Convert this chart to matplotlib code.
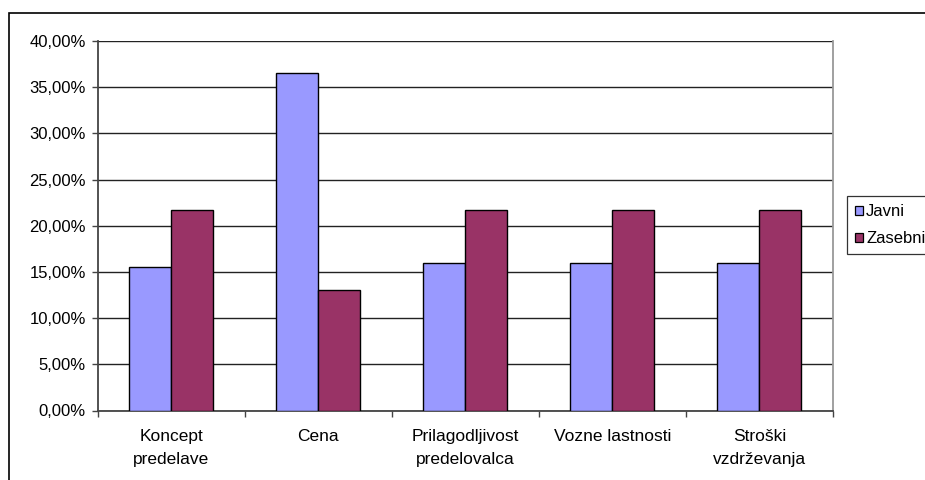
import matplotlib
matplotlib.use("Agg")
import matplotlib.pyplot as plt
from matplotlib.patches import Rectangle
from matplotlib.ticker import FuncFormatter
import numpy as np

plt.rcParams['font.family'] = ['Liberation Sans', 'DejaVu Sans']

categories = ["Koncept\npredelave", "Cena", "Prilagodljivost\npredelovalca",
              "Vozne lastnosti", "Stroški\nvzdrževanja"]
javni = [15.56, 36.52, 15.96, 15.96, 15.96]
zasebni = [21.74, 13.04, 21.74, 21.74, 21.74]
series_names = ["Javni", "Zasebni"]
colors = ["#9999FF", "#993366"]

W, H = 925, 480
fig = plt.figure(figsize=(W / 100, H / 100), dpi=100)

# outer chart frame (only top and left edges fall inside the canvas)
fig.add_artist(Rectangle((8.5 / W, -0.01), 1.1, 1 - 12.5 / H + 0.01,
                         transform=fig.transFigure, fill=False,
                         edgecolor="black", linewidth=1.2))

left, right, top, bottom = 97.5, 833, 41, 410.5
ax = fig.add_axes([left / W, 1 - bottom / H, (right - left) / W, (bottom - top) / H])

n = len(categories)
x = np.arange(n)
w = 1 / 3.5
ax.bar(x - w / 2, javni, width=w, color=colors[0], edgecolor="black",
       linewidth=1.0, label=series_names[0], zorder=3)
ax.bar(x + w / 2, zasebni, width=w, color=colors[1], edgecolor="black",
       linewidth=1.0, label=series_names[1], zorder=3)

ax.set_xlim(-0.5, n - 0.5)
ax.set_ylim(0, 40)
ax.set_yticks(np.arange(0, 40.1, 5))
ax.yaxis.set_major_formatter(FuncFormatter(lambda v, p: f"{v:.2f}%".replace(".", ",")))
ax.yaxis.grid(True, color="#222222", linewidth=1.0, zorder=0)
ax.set_axisbelow(True)

# category boundaries carry the tick marks, labels sit at the centers
ax.set_xticks(np.arange(-0.5, n, 1.0))
ax.set_xticklabels([])
ax.set_xticks(x, minor=True)
ax.set_xticklabels(categories, minor=True, fontsize=12.5)
for lbl in ax.get_xticklabels(minor=True):
    lbl.set_linespacing(1.7)
ax.tick_params(axis="x", which="minor", length=0, pad=13)
ax.tick_params(axis="x", which="major", length=4.5, width=1.0, color="#444444")
ax.tick_params(axis="y", length=4.5, width=1.0, color="#444444", labelsize=12, pad=4)

for side in ["left", "bottom"]:
    ax.spines[side].set_color("#444444")
    ax.spines[side].set_linewidth(1.3)
ax.spines["right"].set_color("#999999")
ax.spines["right"].set_linewidth(1.3)
ax.spines["top"].set_visible(False)

leg = fig.legend(loc="upper left", bbox_to_anchor=(847 / W, 1 - 196 / H),
                 fontsize=12, frameon=True, fancybox=False, edgecolor="black",
                 handlelength=0.45, handleheight=0.45, handletextpad=0.2,
                 borderpad=0.5, labelspacing=0.7, borderaxespad=0)
leg.get_frame().set_linewidth(0.9)
for p in leg.get_patches():
    p.set_linewidth(0.9)

fig.savefig("out.png", dpi=100)
